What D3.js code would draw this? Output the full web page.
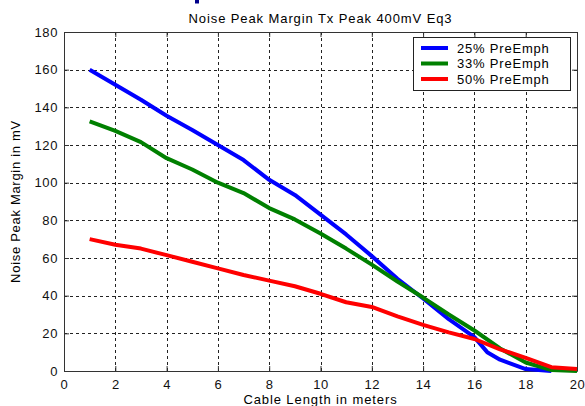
<!DOCTYPE html>
<html>
<head>
<meta charset="utf-8">
<script src="https://cdn.jsdelivr.net/npm/d3@7"></script>
<style>
  body { margin: 0; background: #fff; }
  text { font-family: "Liberation Sans", Arial, sans-serif; }
</style>
</head>
<body>
<svg id="chart" width="585" height="406"></svg>
<script>
"use strict";

const cable_len = [1, 2, 3, 4, 5, 6, 7, 8, 9, 10, 11, 12, 13, 14, 15, 16, 16.5, 17, 18, 19, 20]
const pre25 = [160, 152, 144, 135.5, 128, 120, 112, 101.5, 93.5, 83, 72.5, 61, 49, 38.5, 27.5, 18, 10, 6, 1, 0, null]
const pre33 = [132.5, 127.5, 121.5, 113, 107, 100, 94.5, 86.5, 80.5, 73, 65, 56.5, 47.5, 39, 30, 21.5, null, 12, 4.5, 0.5, 0]
const pre50 = [70, 67, 65, 61.5, 58, 54.5, 51, 48, 45, 41, 36.5, 34, 29, 24.5, 20.5, 17, null, 11.5, 7, 2, 1]

const series_names = ['25% PreEmph', '33% PreEmph', '50% PreEmph']
const series_colors = ['#0000ff', '#008000', '#ff0000']
const x_ticks = d3.range(0, 21, 2)
const y_ticks = d3.range(0, 181, 20)

const margin = { left: 64, right: 8, top: 32, bottom: 35 }
const width = 585
const height = 406

const x = d3.scaleLinear().domain([0, 20]).range([margin.left, width - margin.right])
const y = d3.scaleLinear().domain([0, 180]).range([height - margin.bottom, margin.top])

let svg = d3.select('#chart')

// bit of a bigger heading that is cut off above the figure
svg.append('rect')
   .attr('x', 195).attr('y', 0)
   .attr('width', 4).attr('height', 3.5)
   .attr('fill', '#00008b')

svg.append('text')
   .attr('x', (x.range()[0] + x.range()[1]) / 2).attr('y', 23)
   .attr('text-anchor', 'middle')
   .attr('font-size', 13)
   .attr('letter-spacing', 0.9)
   .text('Noise Peak Margin Tx Peak 400mV Eq3')

// grid
let grid = svg.append('g')
   .attr('stroke', '#222')
   .attr('stroke-width', 1)
   .attr('stroke-dasharray', '3,3')
grid.selectAll('.gx')
   .data(x_ticks.slice(1, -1))
   .enter().append('line')
      .attr('x1', d => Math.round(x(d)) + 0.5).attr('x2', d => Math.round(x(d)) + 0.5)
      .attr('y1', y(180)).attr('y2', y(0))
grid.selectAll('.gy')
   .data(y_ticks.slice(1, -1))
   .enter().append('line')
      .attr('y1', d => Math.round(y(d)) + 0.5).attr('y2', d => Math.round(y(d)) + 0.5)
      .attr('x1', x(0)).attr('x2', x(20))

// axes, ticks inward
const axis_style = g => {
   g.select('.domain').attr('stroke', '#333')
   g.selectAll('.tick line').attr('stroke', '#333')
   g.selectAll('.tick text').attr('font-size', 13).attr('fill', '#111')
      .attr('letter-spacing', 0.6)
      .attr('font-family', '"Liberation Sans", Arial, sans-serif')
}
svg.append('g')
   .attr('transform', `translate(0,${y(0)})`)
   .call(d3.axisBottom(x).tickValues(x_ticks).tickSizeInner(-5).tickSizeOuter(0).tickPadding(9))
   .call(axis_style)
svg.append('g')
   .attr('transform', `translate(0,${y(180)})`)
   .call(d3.axisTop(x).tickValues(x_ticks).tickSizeInner(-5).tickSizeOuter(0).tickFormat(''))
   .call(axis_style)
svg.append('g')
   .attr('transform', `translate(${x(0)},0)`)
   .call(d3.axisLeft(y).tickValues(y_ticks).tickSizeInner(-5).tickSizeOuter(0).tickPadding(6))
   .call(axis_style)
svg.append('g')
   .attr('transform', `translate(${x(20)},0)`)
   .call(d3.axisRight(y).tickValues(y_ticks).tickSizeInner(-5).tickSizeOuter(0).tickFormat(''))
   .call(axis_style)

svg.append('text')
   .attr('x', (x.range()[0] + x.range()[1]) / 2).attr('y', 404)
   .attr('text-anchor', 'middle')
   .attr('font-size', 13)
   .attr('letter-spacing', 0.9)
   .text('Cable Length in meters')

svg.append('text')
   .attr('transform', `translate(20,${(y.range()[0] + y.range()[1]) / 2}) rotate(-90)`)
   .attr('text-anchor', 'middle')
   .attr('font-size', 13)
   .attr('letter-spacing', 0.7)
   .text('Noise Peak Margin in mV')

// lines
const line = d3.line()
   .defined(d => d[1] != null)
   .x(d => x(d[0]))
   .y(d => y(d[1]))

let all_series = [pre25, pre33, pre50]
svg.append('g')
   .selectAll('path')
   .data(all_series)
   .enter().append('path')
      .attr('fill', 'none')
      .attr('stroke', (d, i) => series_colors[i])
      .attr('stroke-width', 4)
      .attr('stroke-linejoin', 'round')
      .attr('d', d => line(cable_len.map((c, i) => [c, d[i]]).filter(p => p[1] != null)))

// legend
let legend = svg.append('g')
legend.append('rect')
   .attr('x', 413.5).attr('y', 37.5)
   .attr('width', 157).attr('height', 53)
   .attr('fill', '#fff').attr('stroke', '#222')
let items = legend.selectAll('.item')
   .data(series_names)
   .enter().append('g')
      .attr('transform', (d, i) => `translate(0,${48 + i * 15.5})`)
items.append('line')
   .attr('x1', 421).attr('x2', 448)
   .attr('stroke', (d, i) => series_colors[i])
   .attr('stroke-width', 4)
items.append('text')
   .attr('x', 457).attr('y', 4.5)
   .attr('font-size', 13)
   .attr('letter-spacing', 0.8)
   .text(d => d)
</script>
</body>
</html>
